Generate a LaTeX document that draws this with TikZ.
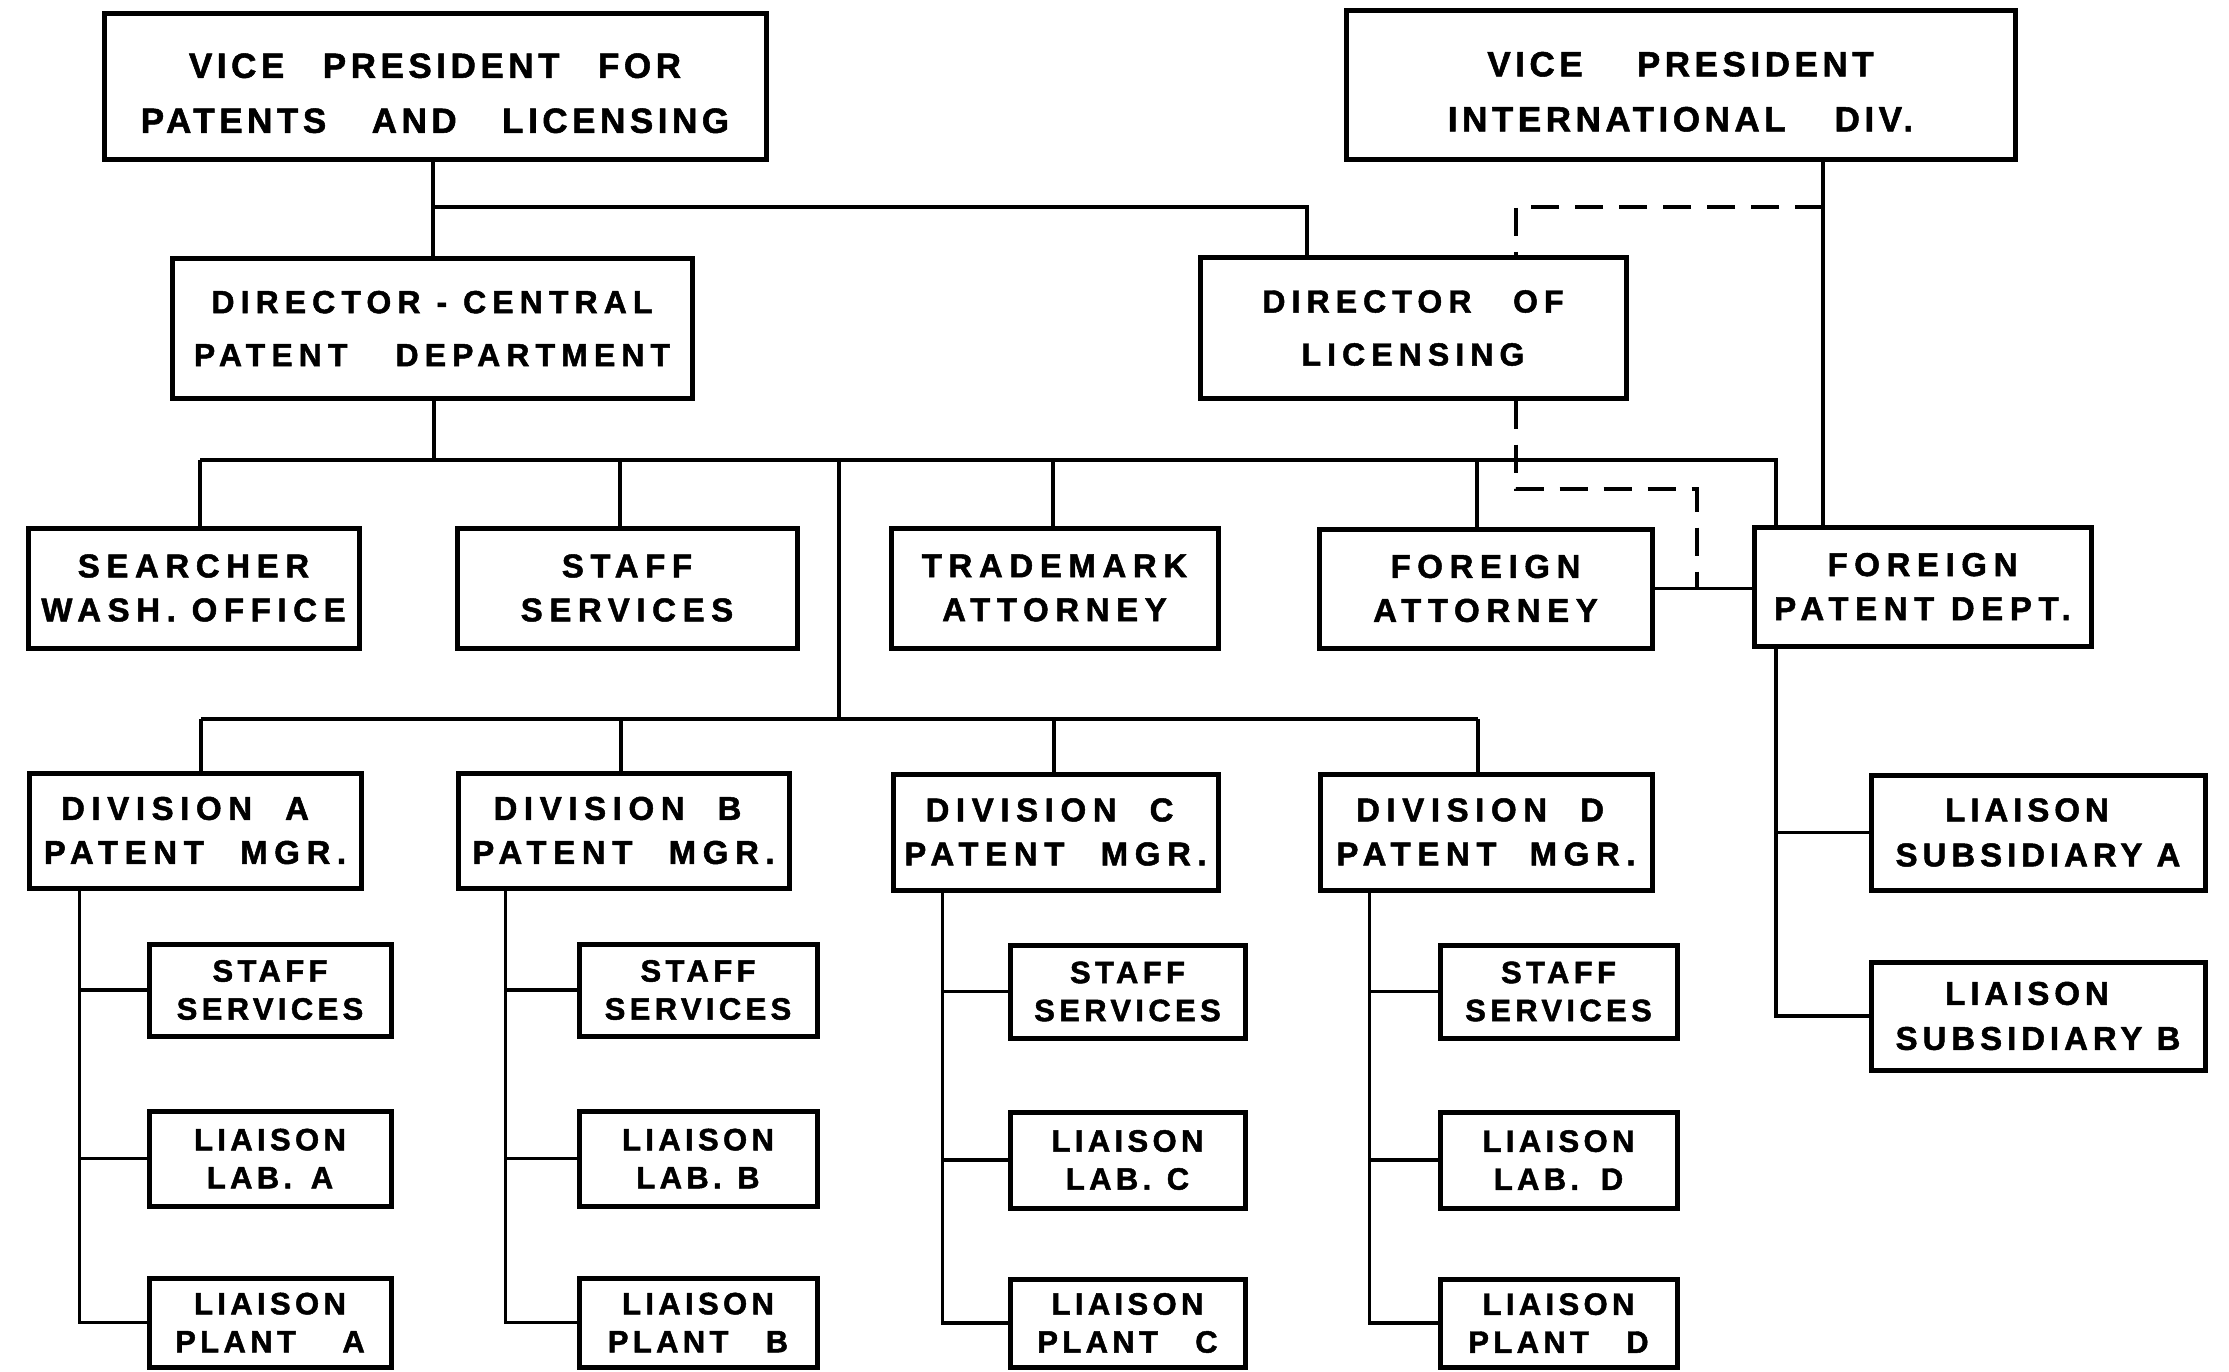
\documentclass[tikz,border=0pt]{standalone}
\usepackage{fontspec}
\setmainfont{Liberation Sans}
\usetikzlibrary{calc}
\newcommand\gp[1]{\hspace{#1em}}
\newcommand\bx[7]{\node[box,#2,minimum width={(#5)-(#3)},minimum height={(#6)-(#4)}] (#1) at ({((#3)+(#5))/2},{((#4)+(#6))/2}) {#7};}
\begin{document}
\begin{tikzpicture}[x=1pt,y=-1pt,
 box/.style={draw,line width=5pt,inner sep=0pt,align=center},
 tbig/.style={font=\fontsize{35}{55}\selectfont\bfseries\addfontfeatures{LetterSpace=13,FakeBold=1.5}},
 tmid/.style={font=\fontsize{32}{53}\selectfont\bfseries\addfontfeatures{LetterSpace=19,FakeBold=1.5}},
 tstd/.style={font=\fontsize{33}{44}\selectfont\bfseries\addfontfeatures{LetterSpace=20,FakeBold=1.5}},
 tsub/.style={font=\fontsize{33}{45}\selectfont\bfseries\addfontfeatures{LetterSpace=15,FakeBold=1.5}},
 tsm/.style={font=\fontsize{31}{38}\selectfont\bfseries\addfontfeatures{LetterSpace=14,FakeBold=1.5}},
 conn/.style={line width=3.8pt},
 dsh/.style={line width=3.8pt,dash pattern=on 28pt off 16pt}]
\fill[white] (0,0) rectangle (2229,1372);
\useasboundingbox (0,0) rectangle (2229,1372);
% top level
\bx{vpp}{tbig}{104}{14}{766}{160}{\rule{0pt}{37pt}VICE\gp{1.1}PRESIDENT\gp{1.1}FOR\\PATENTS\gp{1.3}AND\gp{1.3}LICENSING}
\bx{vpi}{tbig}{1346}{11}{2015}{160}{\rule{0pt}{37pt}VICE\gp{1.55}PRESIDENT\\INTERNATIONAL\gp{1.4}DIV.}
\bx{dcp}{tmid}{172}{259}{692}{398}{DIRECTOR\gp{0.5}-\gp{0.5}CENTRAL\\PATENT\gp{1.5}DEPARTMENT}
\bx{dl}{tmid}{1200}{258}{1626}{398}{DIRECTOR\gp{1.3}OF\\LICENSING}
% second row
\bx{sr}{tstd}{28}{528}{359}{648}{SEARCHER\\WASH. OFFICE}
\bx{ss}{tstd}{457}{528}{797}{648}{STAFF\\SERVICES}
\bx{tm}{tstd}{891}{528}{1218}{648}{TRADEMARK\\ATTORNEY}
\bx{fa}{tstd}{1319}{529}{1652}{648}{FOREIGN\\ATTORNEY}
\bx{fpd}{tstd}{1754}{527}{2091}{646}{FOREIGN\\PATENT\gp{0.5}DEPT.}
% divisions
\bx{da}{tstd}{29}{773}{361}{888}{DIVISION\gp{1}A\kern20pt\\PATENT\gp{1.1}MGR.}
\bx{db}{tstd}{458}{773}{789}{888}{DIVISION\gp{1}B\kern12pt\\PATENT\gp{1.1}MGR.}
\bx{dvc}{tstd}{893}{774}{1218}{890}{DIVISION\gp{1}C\kern12pt\\PATENT\gp{1.1}MGR.}
\bx{dd}{tstd}{1320}{774}{1652}{890}{DIVISION\gp{1}D\kern12pt\\PATENT\gp{1.0}MGR.}
% children
\bx{sfa}{tsm}{149}{944}{391}{1036}{STAFF\\SERVICES}
\bx{lba}{tsm}{149}{1111}{391}{1206}{LIAISON\\LAB.\gp{0.6}A}
\bx{pla}{tsm}{149}{1278}{391}{1367}{LIAISON\\PLANT\gp{1.5}A}
\bx{sfb}{tsm}{579}{944}{817}{1036}{STAFF\\SERVICES}
\bx{lbb}{tsm}{579}{1111}{817}{1206}{LIAISON\\LAB.\gp{0.5}B}
\bx{plb}{tsm}{579}{1278}{817}{1367}{LIAISON\\PLANT\gp{1.2}B}
\bx{sfc}{tsm}{1010}{945}{1245}{1038}{STAFF\\SERVICES}
\bx{lbc}{tsm}{1010}{1112}{1245}{1208}{LIAISON\\LAB.\gp{0.5}C}
\bx{plc}{tsm}{1010}{1279}{1245}{1367}{LIAISON\\PLANT\gp{1.2}C}
\bx{sfd}{tsm}{1440}{945}{1677}{1038}{STAFF\\SERVICES}
\bx{lbd}{tsm}{1440}{1112}{1677}{1208}{LIAISON\\LAB.\gp{0.7}D}
\bx{pld}{tsm}{1440}{1279}{1677}{1367}{LIAISON\\PLANT\gp{1.2}D}
\bx{sua}{tsub}{1871}{775}{2205}{890}{LIAISON\kern22pt\\SUBSIDIARY A}
\bx{sub}{tsub}{1871}{962}{2205}{1070}{LIAISON\kern22pt\\SUBSIDIARY B}
% helper coordinates
\coordinate (j0) at (433,207);
\coordinate (vx) at (1823,0);
\coordinate (dx) at (1516,0);
\coordinate (dk) at (1697,489);
\coordinate (b2) at (434,460);
\coordinate (fx) at (1776,0);
\coordinate (tx) at (839,0);
\coordinate (b3) at (0,719);
% upper connectors
\draw[conn] (j0 |- vpp.south) -- (j0 |- dcp.north);
\draw[conn] (j0) -| ([xshift=-106pt]dl.north);
\draw[conn] (vpi.south -| vx) -- (fpd.north -| vx);
\draw[dsh] (j0 -| vx) -| (dl.north -| dx);
\draw[dsh] (dl.south -| dx) |- (dk) -- (dk |- fa.east);
\draw[conn] (fa.east) -- (fa.east -| fpd.west);
% second bus
\draw[conn] (dcp.south -| b2) -- (b2);
\path ([xshift=6.5pt]sr.north) coordinate (srn)
      ([xshift=-7pt]ss.north) coordinate (ssn)
      ([xshift=-1.5pt]tm.north) coordinate (tmn)
      ([xshift=-8.5pt]fa.north) coordinate (fan)
      (fpd.north -| fx) coordinate (fpdn);
\draw[conn] (srn |- b2) -- (fpdn |- b2) -- (fpdn);
\foreach \n in {srn,ssn,tmn,fan} \draw[conn] (\n |- b2) -- (\n);
% division bus
\draw[conn] (b2 -| tx) -- (b3 -| tx);
\path ([xshift=6pt]da.north) coordinate (dan)
      ([xshift=-2.5pt]db.north) coordinate (dbn)
      ([xshift=-1.5pt]dvc.north) coordinate (dcn)
      ([xshift=-8pt]dd.north) coordinate (ddn);
\draw[conn] (dan |- b3) -- (ddn |- b3);
\foreach \n in {dan,dbn,dcn,ddn} \draw[conn] (\n |- b3) -- (\n);
% division trunks
\path ([xshift=53pt]da.south west) coordinate (ta)
      ([xshift=50pt]db.south west) coordinate (tb)
      ([xshift=52pt]dvc.south west) coordinate (tc)
      ([xshift=52pt]dd.south west) coordinate (td);
\foreach \t/\s/\l/\p in {ta/sfa/lba/pla,tb/sfb/lbb/plb,tc/sfc/lbc/plc,td/sfd/lbd/pld}{
  \draw[conn] (\t) |- (\p.west);
  \draw[conn] (\t |- \s.west) -- (\s.west);
  \draw[conn] (\t |- \l.west) -- (\l.west);
}
% foreign trunk
\draw[conn] (fpd.south -| fx) |- (sub.west);
\draw[conn] (fx |- sua.west) -- (sua.west);
\end{tikzpicture}
\end{document}
